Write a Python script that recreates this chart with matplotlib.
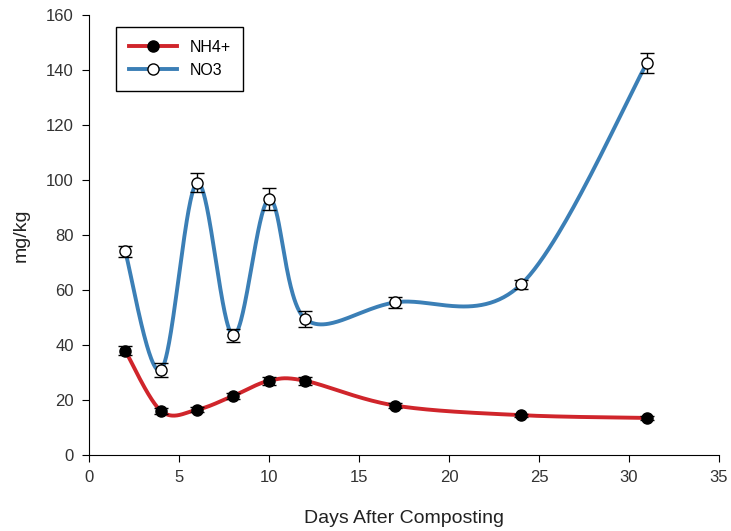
import numpy as np
import matplotlib.pyplot as plt

# Data
days = [2, 4, 6, 8, 10, 12, 17, 24, 31]
nh4 = [38, 16, 16.5, 21.5, 27, 27, 18, 14.5, 13.5]
nh4_err = [1.5, 1, 1, 1, 1.5, 1.5, 1, 0.6, 0.6]
no3 = [74, 31, 99, 43.5, 93, 49.5, 55.5, 62, 142.5]
no3_err = [2, 2.5, 3.5, 2.5, 4, 3, 2, 1.5, 3.5]


def smooth(x, y, sx=18.0, sy=2.75, n=60):
    # Catmull-Rom curve through the points, worked out in screen-like units
    P = np.column_stack([np.asarray(x, float)*sx, np.asarray(y, float)*sy])
    P = np.vstack([P[0], P, P[-1]])
    out = []
    t = np.linspace(0, 1, n)[:, None]
    for i in range(1, len(P)-2):
        p0, p1, p2, p3 = P[i-1], P[i], P[i+1], P[i+2]
        seg = 0.5*((2*p1) + (-p0+p2)*t + (2*p0-5*p1+4*p2-p3)*t**2 + (-p0+3*p1-3*p2+p3)*t**3)
        out.append(seg)
    out = np.vstack(out)
    return out[:, 0]/sx, out[:, 1]/sy


plt.rcParams['font.family'] = ['Liberation Sans', 'DejaVu Sans']

fig = plt.figure(figsize=(7.31, 5.31), dpi=100)
ax = fig.add_axes([0.122, 0.143, 0.8615, 0.829])

red = '#d0252b'
blue = '#3b7fb6'

xs, ys = smooth(days, nh4)
ax.plot(xs, ys, color=red, lw=2.8, zorder=2)
ax.errorbar(days, nh4, yerr=nh4_err, fmt='none', ecolor='black', elinewidth=1, capsize=5, zorder=3)
ax.plot(days, nh4, 'o', ms=8, mfc='black', mec='black', zorder=4)

xs, ys = smooth(days, no3)
ax.plot(xs, ys, color=blue, lw=2.8, zorder=2)
ax.errorbar(days, no3, yerr=no3_err, fmt='none', ecolor='black', elinewidth=1, capsize=5, zorder=3)
ax.plot(days, no3, 'o', ms=8, mfc='white', mec='black', mew=1, zorder=4)

# legend proxies
l1, = ax.plot([], [], color=red, lw=2.8, marker='o', ms=8, mfc='black', mec='black')
l2, = ax.plot([], [], color=blue, lw=2.8, marker='o', ms=8, mfc='white', mec='black')
leg = ax.legend([l1, l2], ['NH4+', 'NO3'], loc='upper left', bbox_to_anchor=(0.03, 0.99),
                fancybox=False, edgecolor='black', fontsize=11.5, handlelength=3,
                borderpad=0.8, framealpha=1)
leg.get_frame().set_linewidth(1)

ax.set_xlim(0, 35)
ax.set_ylim(0, 160)
ax.set_xticks(range(0, 36, 5))
ax.set_yticks(range(0, 161, 20))
ax.spines['top'].set_visible(False)
ax.spines['right'].set_visible(False)
ax.tick_params(direction='out', length=5, labelsize=12, pad=6, labelcolor='#333333')
ax.set_xlabel('Days After Composting', fontsize=14, labelpad=18, color='#222222')
ax.set_ylabel('mg/kg', fontsize=14, labelpad=12, color='#222222')

plt.savefig('out.png', dpi=100)
